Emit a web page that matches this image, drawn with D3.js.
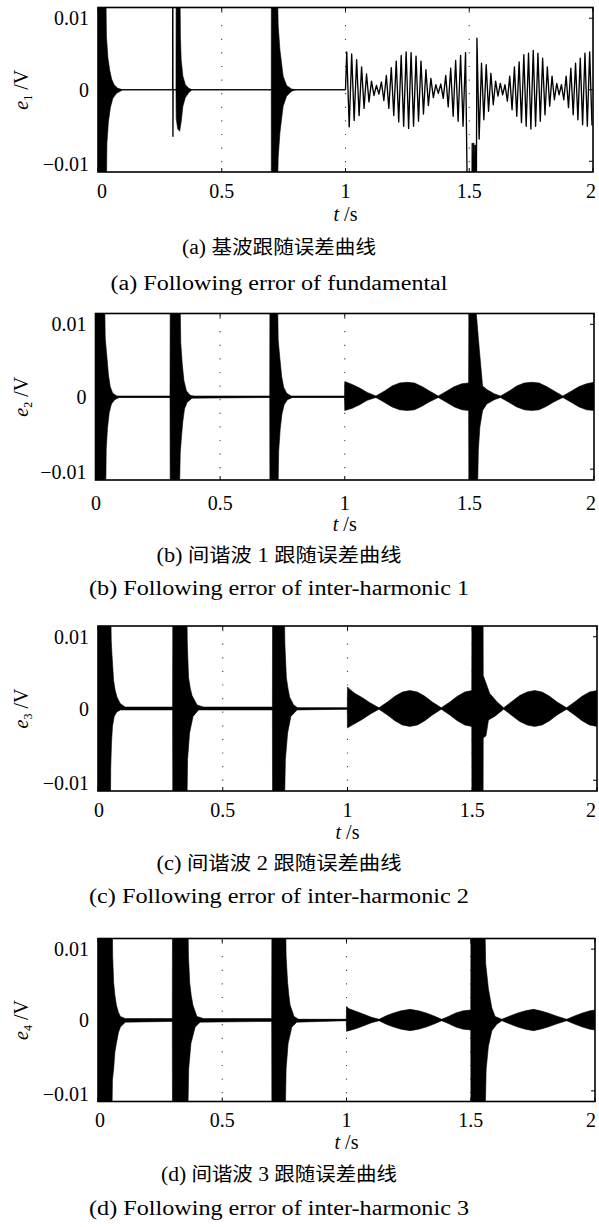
<!DOCTYPE html>
<html>
<head>
<meta charset="utf-8">
<script src="https://cdn.jsdelivr.net/npm/d3@7"></script>
<style>
  body { margin: 0; background: #fff; }
  svg { display: block; }
</style>
</head>
<body>
<svg id="fig" width="599" height="1227"></svg>
<script>
// ---- axes / labels ----
const xTicks = [0, 0.5, 1, 1.5, 2]
const yTicks = [-0.01, 0, 0.01]
const guideTimes = [0.5, 1, 1.5]
const errIndex = ['1', '2', '3', '4']
const captionTags = ['(a) ', '(b) ', '(c) ', '(d) ']
const captionsZh = [['基波跟随误差曲线'], ['间谐波', ' 1 ', '跟随误差曲线'], ['间谐波', ' 2 ', '跟随误差曲线'], ['间谐波', ' 3 ', '跟随误差曲线']]
const captionsEn = ['(a) Following error of fundamental', '(b) Following error of inter-harmonic 1',
    '(c) Following error of inter-harmonic 2', '(d) Following error of inter-harmonic 3']

// ---- (a) fundamental: envelope of the dense transients (t, e) ----
const fundUpper = [[0, 0.02], [0.030, 0.02], [0.034, 0.0075], [0.040, 0.0045], [0.047, 0.0028], [0.055, 0.0015], [0.065, 0.0007], [0.08, 0.0002], [0.1, 0],
    [0.315, 0], [0.316, 0.02], [0.330, 0.02], [0.333, 0.0075], [0.336, 0.0042], [0.343, 0.0019], [0.353, 0.0007], [0.367, 0.0002], [0.38, 0],
    [0.700, 0], [0.7005, 0.02], [0.722, 0.02], [0.728, 0.009], [0.735, 0.0056], [0.748, 0.0019], [0.762, 0.0006], [0.782, 0.0001], [0.8, 0], [1.0, 0]]
const fundLower = [[0, -0.02], [0.032, -0.02], [0.036, -0.0075], [0.042, -0.0045], [0.050, -0.0025], [0.060, -0.0012], [0.075, -0.0005], [0.09, -0.0002], [0.1, 0],
    [0.315, 0], [0.316, -0.004], [0.322, -0.0055], [0.330, -0.0058], [0.336, -0.0045], [0.343, -0.0023], [0.353, -0.0011], [0.367, -0.0004], [0.38, 0],
    [0.700, 0], [0.7005, -0.02], [0.722, -0.02], [0.728, -0.0095], [0.735, -0.006], [0.748, -0.0023], [0.762, -0.0009], [0.782, -0.0002], [0.8, 0], [1.0, 0]]
// single switching spike at 0.3 s
const fundStep = [[0.3015, 0], [0.3022, 0.02], [0.3028, -0.0065], [0.3035, 0]]
// 50 Hz beat after 1 s: successive peaks and troughs
const fundWave = [[1.000, 0],
    [1.005, 0.0053], [1.015, -0.0052], [1.025, 0.0050], [1.035, -0.0043], [1.045, 0.0042], [1.055, -0.0036], [1.065, 0.0032], [1.075, -0.0026],
    [1.085, 0.0022], [1.095, -0.0017], [1.105, 0.0012], [1.115, -0.0008], [1.125, 0.0006], [1.135, -0.0006], [1.145, 0.0011], [1.155, -0.0015],
    [1.165, 0.0020], [1.175, -0.0026], [1.185, 0.0031], [1.195, -0.0036], [1.205, 0.0040], [1.215, -0.0045], [1.225, 0.0048], [1.235, -0.0051],
    [1.245, 0.0053], [1.255, -0.0054], [1.265, 0.0052], [1.275, -0.0051], [1.285, 0.0047], [1.295, -0.0044], [1.305, 0.0040], [1.315, -0.0034],
    [1.325, 0.0028], [1.335, -0.0022], [1.345, 0.0016], [1.355, -0.0011], [1.365, 0.0007], [1.375, -0.0005], [1.385, 0.0008], [1.395, -0.0012],
    [1.405, 0.0020], [1.415, -0.0024], [1.425, 0.0030], [1.435, -0.0037], [1.445, 0.0041], [1.455, -0.0044], [1.465, 0.0048], [1.475, -0.0051],
    [1.485, 0.0052],
    [1.4975, -0.03], [1.510, -0.03], [1.512, -0.0075], [1.515, -0.03], [1.518, -0.0075], [1.521, -0.03], [1.524, -0.0078], [1.527, -0.03], [1.531, 0.0072],
    [1.540, -0.0069], [1.5495, 0.0037], [1.559, -0.0042], [1.5685, 0.0035], [1.578, -0.0030], [1.5875, 0.0023], [1.597, -0.0021], [1.6065, 0.0012],
    [1.616, -0.0009], [1.6255, 0.0009], [1.635, -0.0007], [1.6445, 0.0007], [1.654, -0.0016], [1.6635, 0.0019], [1.673, -0.0028], [1.6825, 0.0032],
    [1.692, -0.0037], [1.7015, 0.0039], [1.711, -0.0046], [1.7205, 0.0049], [1.730, -0.0051], [1.7395, 0.0051], [1.749, -0.0055], [1.7585, 0.0055],
    [1.768, -0.0051], [1.7775, 0.0051], [1.787, -0.0044], [1.7965, 0.0044], [1.806, -0.0035], [1.8155, 0.0032], [1.825, -0.0023], [1.8345, 0.0019],
    [1.844, -0.0014], [1.8535, 0.0009], [1.863, -0.0007], [1.8725, 0.0007], [1.882, -0.0014], [1.8915, 0.0019], [1.901, -0.0025], [1.9105, 0.0030],
    [1.920, -0.0035], [1.9295, 0.0037], [1.939, -0.0042], [1.9485, 0.0044], [1.958, -0.0049], [1.9675, 0.0051], [1.977, -0.0051], [1.9865, 0.0053],
    [1.996, -0.0050]]

// ---- (b) inter-harmonic 1: envelope (t, e) ----
const ih1Upper = [[0, 0.02], [0.034, 0.02], [0.039, 0.0081], [0.045, 0.0058], [0.052, 0.0030], [0.059, 0.0014], [0.069, 0.0005], [0.086, 0.0001], [0.299, 0.0001],
    [0.300, 0.02], [0.337, 0.02], [0.342, 0.0075], [0.348, 0.0045], [0.355, 0.0022], [0.365, 0.0008], [0.38, 0.0002], [0.395, 0.0001], [0.699, 0.0001],
    [0.700, 0.02], [0.728, 0.02], [0.733, 0.0078], [0.740, 0.0052], [0.747, 0.0028], [0.755, 0.0013], [0.767, 0.0005], [0.785, 0.0001], [0.999, 0.0001],
    [1.0, 0.0021], [1.03, 0.0017], [1.06, 0.0012], [1.09, 0.0006], [1.125, 0.0001], [1.16, 0.0008], [1.19, 0.0015], [1.22, 0.0019], [1.25, 0.0020],
    [1.28, 0.0019], [1.31, 0.0014], [1.34, 0.0008], [1.375, 0.0001], [1.41, 0.0008], [1.44, 0.0014], [1.47, 0.0018], [1.497, 0.0019],
    [1.4985, 0.02], [1.527, 0.02], [1.5275, 0.0116], [1.540, 0.0065], [1.553, 0.0015], [1.57, 0.0010], [1.60, 0.0004], [1.625, 0.0001],
    [1.66, 0.0008], [1.69, 0.0015], [1.72, 0.0019], [1.75, 0.0020], [1.78, 0.0019], [1.81, 0.0014], [1.84, 0.0008], [1.875, 0.0001],
    [1.91, 0.0008], [1.94, 0.0014], [1.97, 0.0018], [2.0, 0.0020]]
const ih1Lower = [[0, -0.02], [0.039, -0.02], [0.043, -0.0072], [0.048, -0.0044], [0.055, -0.0022], [0.064, -0.0010], [0.077, -0.0004], [0.095, -0.0001], [0.299, -0.0001],
    [0.300, -0.02], [0.333, -0.02], [0.340, -0.0078], [0.345, -0.0055], [0.350, -0.0035], [0.357, -0.0017], [0.367, -0.0008], [0.387, -0.0002], [0.699, -0.0001],
    [0.700, -0.02], [0.729, -0.02], [0.735, -0.0075], [0.741, -0.0045], [0.748, -0.0024], [0.757, -0.0011], [0.770, -0.0004], [0.79, -0.0001], [0.999, -0.0001],
    [1.0, -0.0019], [1.03, -0.0016], [1.06, -0.0011], [1.09, -0.0005], [1.125, -0.0001], [1.16, -0.0008], [1.19, -0.0014], [1.22, -0.0018], [1.25, -0.0019],
    [1.28, -0.0018], [1.31, -0.0013], [1.34, -0.0007], [1.375, -0.0001], [1.41, -0.0008], [1.44, -0.0014], [1.47, -0.0018], [1.497, -0.0019],
    [1.4985, -0.02], [1.529, -0.02], [1.536, -0.0074], [1.542, -0.0042], [1.553, -0.0019], [1.57, -0.0010], [1.60, -0.0004], [1.625, -0.0001],
    [1.66, -0.0008], [1.69, -0.0014], [1.72, -0.0018], [1.75, -0.0019], [1.78, -0.0018], [1.81, -0.0013], [1.84, -0.0007], [1.875, -0.0001],
    [1.91, -0.0008], [1.94, -0.0014], [1.97, -0.0018], [2.0, -0.0019]]

// ---- (c) inter-harmonic 2: envelope (t, e) ----
const ih2Upper = [[0, 0.02], [0.049, 0.02], [0.053, 0.0095], [0.056, 0.0075], [0.0625, 0.0039], [0.069, 0.0025], [0.076, 0.0016], [0.089, 0.0007], [0.109, 0.0002], [0.299, 0.0002],
    [0.300, 0.02], [0.354, 0.02], [0.358, 0.009], [0.363, 0.0043], [0.370, 0.0028], [0.377, 0.0018], [0.397, 0.0005], [0.423, 0.0002], [0.699, 0.0002],
    [0.700, 0.02], [0.744, 0.02], [0.749, 0.009], [0.755, 0.0043], [0.762, 0.0027], [0.768, 0.0016], [0.784, 0.0005], [0.80, 0.0001], [0.999, 0.0001],
    [1.0, 0.0030], [1.005, 0.0028], [1.03, 0.0021], [1.06, 0.0015], [1.09, 0.0008], [1.126, 0.0001], [1.16, 0.0009], [1.19, 0.0017], [1.22, 0.0023],
    [1.25, 0.0025], [1.28, 0.0023], [1.31, 0.0017], [1.34, 0.0009], [1.376, 0.0001], [1.41, 0.0009], [1.44, 0.0017], [1.47, 0.0023], [1.498, 0.0025],
    [1.499, 0.02], [1.543, 0.02], [1.544, 0.0046], [1.57, 0.0021], [1.60, 0.0009], [1.626, 0.0001], [1.66, 0.0010], [1.69, 0.0018], [1.72, 0.0023],
    [1.75, 0.0025], [1.78, 0.0023], [1.81, 0.0017], [1.84, 0.0009], [1.878, 0.0001], [1.91, 0.0009], [1.94, 0.0017], [1.97, 0.0023], [2.0, 0.0025]]
const ih2Lower = [[0, -0.02], [0.049, -0.02], [0.051, -0.0084], [0.054, -0.0048], [0.058, -0.0025], [0.065, -0.0011], [0.075, -0.0005], [0.09, -0.0002], [0.299, -0.0002],
    [0.300, -0.02], [0.354, -0.02], [0.359, -0.0071], [0.367, -0.0034], [0.381, -0.0011], [0.403, -0.0002], [0.699, -0.0002],
    [0.700, -0.02], [0.744, -0.02], [0.751, -0.0071], [0.760, -0.0034], [0.773, -0.0011], [0.798, -0.0002], [0.999, -0.0001],
    [1.0, -0.0027], [1.03, -0.0021], [1.06, -0.0015], [1.09, -0.0008], [1.126, -0.0001], [1.16, -0.0009], [1.19, -0.0017], [1.22, -0.0023],
    [1.25, -0.0025], [1.28, -0.0023], [1.31, -0.0017], [1.34, -0.0009], [1.376, -0.0001], [1.41, -0.0009], [1.44, -0.0017], [1.47, -0.0023], [1.498, -0.0025],
    [1.499, -0.02], [1.543, -0.02], [1.544, -0.0041], [1.555, -0.0038], [1.565, -0.0016], [1.59, -0.0011], [1.626, -0.0001], [1.66, -0.0010],
    [1.69, -0.0018], [1.72, -0.0023], [1.75, -0.0025], [1.78, -0.0023], [1.81, -0.0017], [1.84, -0.0009], [1.878, -0.0001], [1.91, -0.0009],
    [1.94, -0.0017], [1.97, -0.0023], [2.0, -0.0025]]

// ---- (d) inter-harmonic 3: envelope (t, e) ----
const ih3Upper = [[0, 0.02], [0.056, 0.02], [0.059, 0.009], [0.063, 0.0053], [0.068, 0.0035], [0.074, 0.0021], [0.082, 0.0011], [0.090, 0.0005], [0.110, 0.0002], [0.299, 0.0002],
    [0.300, 0.02], [0.360, 0.02], [0.364, 0.009], [0.369, 0.0053], [0.375, 0.0035], [0.382, 0.0021], [0.398, 0.0005], [0.425, 0.0002], [0.699, 0.0002],
    [0.700, 0.02], [0.753, 0.02], [0.757, 0.009], [0.763, 0.0053], [0.768, 0.0035], [0.773, 0.0021], [0.789, 0.0005], [0.807, 0.0001], [0.999, 0.0001],
    [1.0, 0.0019], [1.01, 0.0016], [1.04, 0.0012], [1.07, 0.0008], [1.10, 0.0004], [1.131, 0.0001], [1.16, 0.0006], [1.19, 0.0010], [1.22, 0.0013],
    [1.256, 0.0015], [1.29, 0.0013], [1.32, 0.0010], [1.35, 0.0006], [1.383, 0.0001], [1.41, 0.0005], [1.44, 0.0010], [1.47, 0.0013], [1.50, 0.0014],
    [1.501, 0.02], [1.554, 0.02], [1.560, 0.008], [1.571, 0.0044], [1.585, 0.0017], [1.598, 0.0005], [1.625, 0.0001], [1.66, 0.0006], [1.69, 0.0010],
    [1.72, 0.0013], [1.752, 0.0015], [1.78, 0.0013], [1.81, 0.0010], [1.85, 0.0005], [1.886, 0.0001], [1.92, 0.0006], [1.95, 0.0010], [1.98, 0.0013], [2.0, 0.0014]]
const ih3Lower = [[0, -0.02], [0.054, -0.02], [0.058, -0.0085], [0.063, -0.0069], [0.068, -0.0045], [0.074, -0.0033], [0.082, -0.0018], [0.090, -0.0010], [0.110, -0.0003], [0.299, -0.0002],
    [0.300, -0.02], [0.358, -0.02], [0.365, -0.0069], [0.374, -0.0033], [0.391, -0.0010], [0.411, -0.0003], [0.699, -0.0002],
    [0.700, -0.02], [0.750, -0.02], [0.757, -0.0069], [0.765, -0.0033], [0.780, -0.0010], [0.800, -0.0003], [0.999, -0.0001],
    [1.0, -0.0016], [1.01, -0.0015], [1.04, -0.0012], [1.07, -0.0008], [1.10, -0.0004], [1.131, -0.0001], [1.16, -0.0006], [1.19, -0.0010], [1.22, -0.0013],
    [1.256, -0.0015], [1.29, -0.0013], [1.32, -0.0010], [1.35, -0.0006], [1.383, -0.0001], [1.41, -0.0005], [1.44, -0.0010], [1.47, -0.0013], [1.50, -0.0014],
    [1.501, -0.02], [1.554, -0.02], [1.562, -0.0069], [1.571, -0.0037], [1.585, -0.0015], [1.605, -0.0006], [1.625, -0.0001], [1.66, -0.0006], [1.69, -0.0010],
    [1.72, -0.0013], [1.752, -0.0015], [1.78, -0.0013], [1.81, -0.0010], [1.85, -0.0005], [1.886, -0.0001], [1.92, -0.0006], [1.95, -0.0010], [1.98, -0.0013], [2.0, -0.0014]]

const envelopes = [[fundUpper, fundLower], [ih1Upper, ih1Lower], [ih2Upper, ih2Lower], [ih3Upper, ih3Lower]]

// frame geometry of each sub figure (px)
const frames = [
    { left: 98, right: 593, top: 7.5, bottom: 172, tickBase: 198, xTitleBase: 221, zhBase: 254, enBase: 290, zhW: 194, enW: 337, zeroDx: 4 },
    { left: 95.5, right: 594, top: 313.5, bottom: 480, tickBase: 510, xTitleBase: 531, zhBase: 562, enBase: 595, zhW: 245, enW: 380, zeroDx: 0.5 },
    { left: 98, right: 597, top: 626, bottom: 791, tickBase: 817, xTitleBase: 839, zhBase: 870, enBase: 903, zhW: 245, enW: 380, zeroDx: 1 },
    { left: 98, right: 595, top: 938.5, bottom: 1101.5, tickBase: 1127, xTitleBase: 1149, zhBase: 1181, enBase: 1215, zhW: 236, enW: 380, zeroDx: 2 },
]
const yLim = 0.0115
const captionX = 279

const serif = '"Liberation Serif", "Times New Roman", serif'
const cjk = '"Noto Sans CJK SC", sans-serif'

const svg = d3.select('#fig')
const defs = svg.append('defs')

const fmtY = v => v === 0 ? '0' : (v < 0 ? '\u22120.01' : '0.01')

frames.forEach((f, i) => {
    const x = d3.scaleLinear().domain([0, 2]).range([f.left, f.right])
    const y = d3.scaleLinear().domain([-yLim, yLim]).range([f.bottom, f.top])
    const g = svg.append('g')

    defs.append('clipPath').attr('id', `clip${i}`)
        .append('rect')
        .attr('x', f.left).attr('y', f.top)
        .attr('width', f.right - f.left).attr('height', f.bottom - f.top)

    const plot = g.append('g').attr('clip-path', `url(#clip${i})`)

    // dotted time markers
    plot.selectAll('line.guide')
        .data(guideTimes)
        .join('line')
        .attr('class', 'guide')
        .attr('x1', d => x(d)).attr('x2', d => x(d))
        .attr('y1', f.top).attr('y2', f.bottom)
        .attr('stroke', '#444')
        .attr('stroke-width', 1.1)
        .attr('stroke-dasharray', '1.2 12.4')
        .attr('stroke-dashoffset', -4)

    const line = d3.line().x(d => x(d[0])).y(d => y(d[1]))

    // zero line
    plot.append('path')
        .attr('d', line([[0, 0], [i === 0 ? 1 : 2, 0]]))
        .attr('stroke', '#000')
        .attr('stroke-width', i === 0 ? 1.2 : 1.5)
        .attr('fill', 'none')

    // envelope of the dense oscillation
    const [up, lo] = envelopes[i]
    plot.append('path')
        .attr('d', line(up.concat(lo.slice().reverse())) + 'Z')
        .attr('fill', '#000')
        .attr('stroke', '#000')
        .attr('stroke-width', 0.6)

    if (i === 0) {
        plot.selectAll('path.wave')
            .data([fundStep, fundWave])
            .join('path')
            .attr('class', 'wave')
            .attr('d', line)
            .attr('fill', 'none')
            .attr('stroke', '#000')
            .attr('stroke-width', 1.35)
            .attr('stroke-linejoin', 'round')
    }

    // frame
    g.append('rect')
        .attr('x', f.left).attr('y', f.top)
        .attr('width', f.right - f.left).attr('height', f.bottom - f.top)
        .attr('fill', 'none')
        .attr('stroke', '#000')
        .attr('stroke-width', 1.6)

    // inward ticks
    const tk = 4
    g.selectAll('line.xt')
        .data(xTicks.flatMap(t => [[t, f.bottom, -tk], [t, f.top, tk]]))
        .join('line')
        .attr('class', 'xt')
        .attr('x1', d => x(d[0])).attr('x2', d => x(d[0]))
        .attr('y1', d => d[1]).attr('y2', d => d[1] + d[2])
        .attr('stroke', '#000').attr('stroke-width', 1)
    g.selectAll('line.yt')
        .data(yTicks.flatMap(v => [[v, f.left, tk], [v, f.right, -tk]]))
        .join('line')
        .attr('class', 'yt')
        .attr('y1', d => y(d[0])).attr('y2', d => y(d[0]))
        .attr('x1', d => d[1]).attr('x2', d => d[1] + d[2])
        .attr('stroke', '#000').attr('stroke-width', 1)

    // tick labels
    g.selectAll('text.xl')
        .data(xTicks)
        .join('text')
        .attr('class', 'xl')
        .attr('x', d => Math.min(x(d) + (d === 0 ? f.zeroDx : 0), 591))
        .attr('y', f.tickBase)
        .attr('text-anchor', 'middle')
        .attr('font-family', serif).attr('font-size', 20)
        .text(d => d)
    g.selectAll('text.yl')
        .data(yTicks)
        .join('text')
        .attr('class', 'yl')
        .attr('x', f.left - 9)
        .attr('y', d => y(d) + 7 + (d < 0 ? 3 : 0))
        .attr('text-anchor', 'end')
        .attr('font-family', serif).attr('font-size', 20)
        .text(fmtY)

    // axis titles
    const xt = g.append('text')
        .attr('x', (f.left + f.right) / 2)
        .attr('y', f.xTitleBase)
        .attr('text-anchor', 'middle')
        .attr('font-family', serif).attr('font-size', 20)
    xt.append('tspan').attr('font-style', 'italic').text('t')
    xt.append('tspan').text(' /s')

    const yt = g.append('text')
        .attr('transform', `translate(28,${y(0)}) rotate(-90)`)
        .attr('text-anchor', 'middle')
        .attr('font-family', serif).attr('font-size', 20)
    yt.append('tspan').attr('font-style', 'italic').text('e')
    yt.append('tspan').attr('font-size', 12).attr('dy', 4).text(errIndex[i])
    yt.append('tspan').attr('dy', -4).text(' /V')

    // captions: serif tag and numerals, CJK words
    const zh = g.append('text')
        .attr('x', captionX).attr('y', f.zhBase)
        .attr('text-anchor', 'middle')
        .attr('font-size', 19)
        .attr('textLength', f.zhW).attr('lengthAdjust', 'spacingAndGlyphs')
    zh.append('tspan').attr('font-family', serif).attr('font-size', 20).text(captionTags[i])
    captionsZh[i].forEach(part => {
        zh.append('tspan')
            .attr('font-family', /[0-9]/.test(part) ? serif : cjk)
            .attr('font-size', /[0-9]/.test(part) ? 20 : 19)
            .text(part)
    })
    g.append('text')
        .attr('x', captionX).attr('y', f.enBase)
        .attr('text-anchor', 'middle')
        .attr('font-family', serif).attr('font-size', 20)
        .attr('textLength', f.enW).attr('lengthAdjust', 'spacingAndGlyphs')
        .text(captionsEn[i])
})
</script>
</body>
</html>
